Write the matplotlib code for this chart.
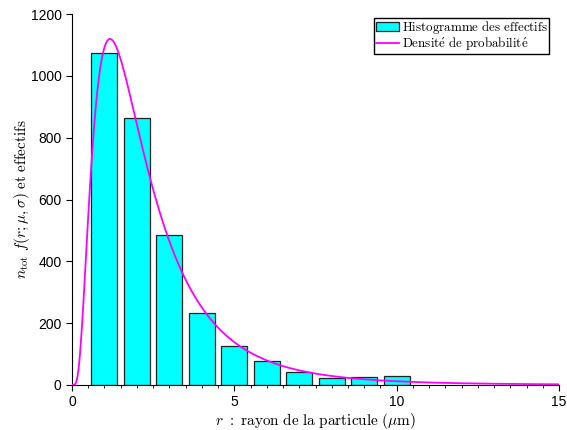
import numpy as np
import matplotlib
matplotlib.use('Agg')
import matplotlib.pyplot as plt
from matplotlib.ticker import MultipleLocator

# histogramme des effectifs (classes de largeur 1 micron)
r_classes = [1, 2, 3, 4, 5, 6, 7, 8, 9, 10]
effectifs = [1073, 863, 485, 234, 126, 77, 40, 22, 27, 30]

# parametres de la loi log-normale
n_tot = 3000
mu = 0.661
sigma = 0.71

plt.rcParams['mathtext.fontset'] = 'cm'
plt.rcParams['font.family'] = ['Liberation Sans', 'DejaVu Sans']

fig = plt.figure(figsize=(5.67, 4.30), dpi=100)
ax = fig.add_axes([0.127, 0.105, 0.859, 0.862])

bars = ax.bar(r_classes, effectifs, width=0.8, color='#00ffff', edgecolor='#222222',
              linewidth=0.9, zorder=2)

r = np.linspace(1e-3, 15, 600)
f = np.exp(-(np.log(r) - mu) ** 2 / (2 * sigma ** 2)) / (r * sigma * np.sqrt(2 * np.pi))
line, = ax.plot(r, n_tot * f, color='#ff00ff', linewidth=1.3, zorder=3)

ax.set_xlim(0, 15)
ax.set_ylim(0, 1200)
ax.xaxis.set_major_locator(MultipleLocator(5))
ax.xaxis.set_minor_locator(MultipleLocator(0.5))
ax.yaxis.set_major_locator(MultipleLocator(200))
ax.spines['top'].set_visible(False)
ax.spines['right'].set_visible(False)
ax.tick_params(labelsize=10, length=4)
ax.tick_params(which='minor', length=2.5)

ax.set_xlabel(r'$r\ :\ \mathrm{rayon\ de\ la\ particule}\ (\mu\mathrm{m})$', fontsize=11, labelpad=1)
ax.set_ylabel(r'$n_{\mathrm{tot}}\ f(r;\mu,\sigma)\ \mathrm{et\ effectifs}$', fontsize=11, labelpad=-1)

leg = ax.legend([bars, line],
                [r'$\mathrm{Histogramme\ des\ effectifs}$',
                 r'$\mathrm{Densit\acute{e}\ de\ probabilit\acute{e}}$'],
                loc='upper right', bbox_to_anchor=(0.98, 0.99), borderaxespad=0,
                fontsize=9.4, fancybox=False, framealpha=1,
                edgecolor='black', borderpad=0.1, handlelength=1.8,
                handleheight=0.6, handletextpad=0.2, labelspacing=-0.05)
leg.get_frame().set_linewidth(1.0)

fig.savefig('out.png', dpi=100)
